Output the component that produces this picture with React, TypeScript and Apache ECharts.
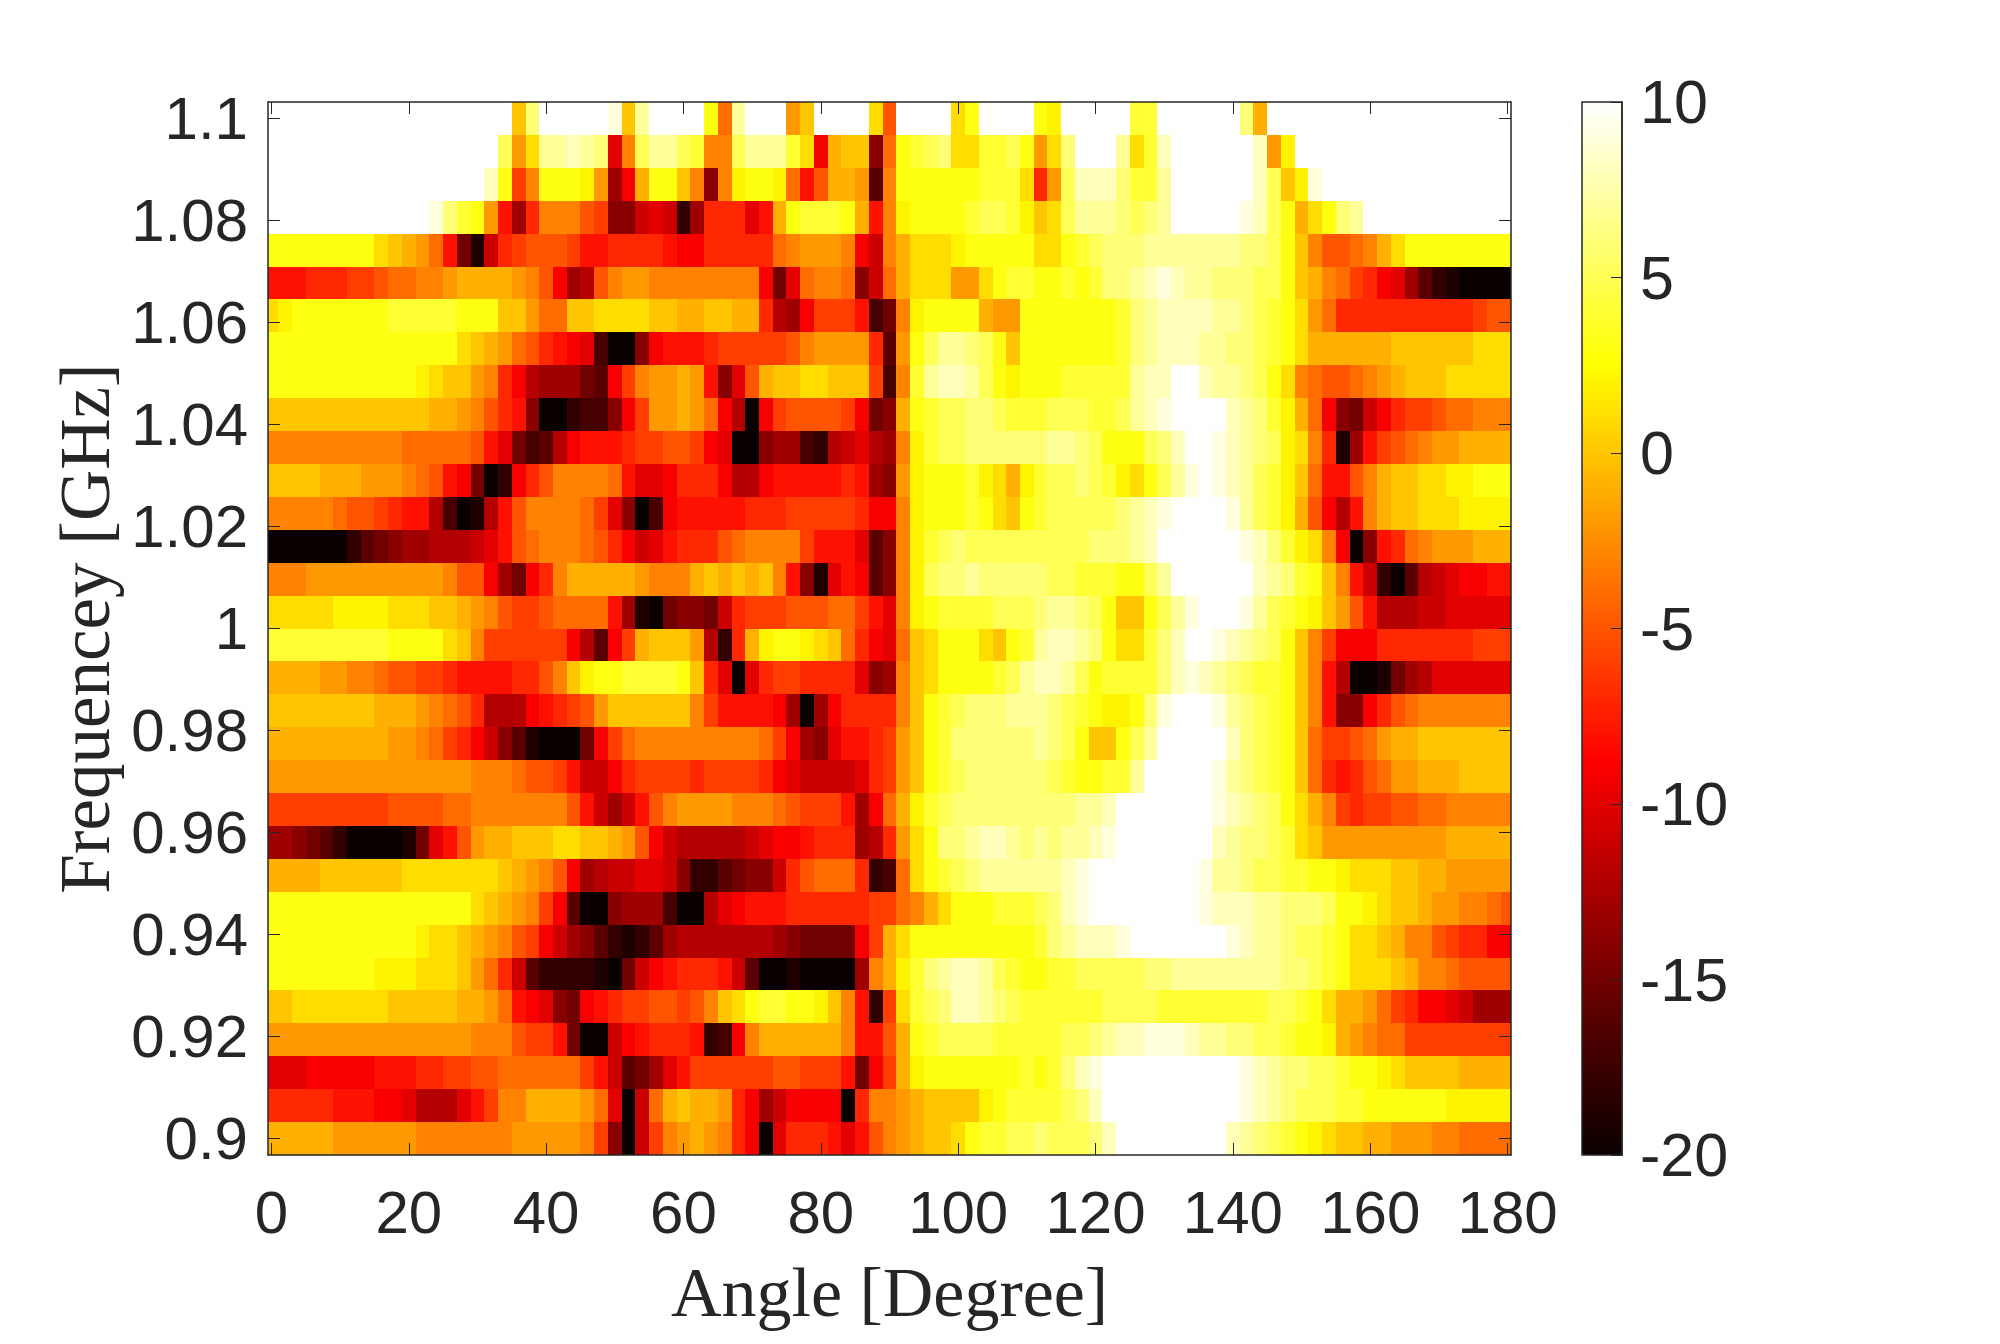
import React, { useEffect, useRef } from "react";
import * as echarts from "echarts";

const xTicks = [0, 20, 40, 60, 80, 100, 120, 140, 160, 180];
const yTicks = [0.9, 0.92, 0.94, 0.96, 0.98, 1, 1.02, 1.04, 1.06, 1.08, 1.1];
const colorTicks = [-20, -15, -10, -5, 0, 5, 10];
const hotStops = ["#0b0000", "#550000", "#aa0000", "#ff0000", "#ff5500", "#ffaa00", "#ffff00", "#ffff80", "#ffffff"];

// dB level per 2 degree step, 0..180; rows run from 1.1 GHz down to 0.9 GHz
const r01 = [10,10,10,10,10, 10,10,10,10,10, 10,10,10,10,10, 10,10,10,0,6, 10,10,10,10,10, 9,0,7,10,10, 10,10,3,-4,7, 10,10,10,-2,0, 10,10,10,10,1, -5,10,10,10,10, 1,3,10,10,10, 10,3,2,10,10, 10,10,10,4,4, 10,10,10,10,10, 10,6,-1,10,10, 10,10,10,10,10, 10,10,10,10,10, 10,10,10,10,10, 10];
const r02 = [10,10,10,10,10, 10,10,10,10,10, 10,10,10,10,10, 10,10,5,-2,1, 7,7,8,7,6, -10,-3,5,7,7, 5,4,-3,-3,5, 7,7,7,4,1, -9,-1,0,0,-14, -4,3,4,5,6, 1,1,4,4,5, 3,-2,1,6,10, 10,10,7,1,4, 8,10,10,10,10, 10,10,8,-2,2, 10,10,10,10,10, 10,10,10,10,10, 10,10,10,10,10, 10];
const r03 = [10,10,10,10,10, 10,10,10,10,10, 10,10,10,10,10, 10,8,3,-6,-3, 3,3,3,2,-2, -13,-9,-1,3,3, 0,-3,-14,-3,2, 3,3,2,-4,-8, -5,-1,-1,-2,-16, -3,3,3,3,3, 3,3,4,4,4, 1,-7,-2,5,8, 8,8,6,4,4, 7,10,10,10,10, 10,10,8,5,0, 2,9,10,10,10, 10,10,10,10,10, 10,10,10,10,10, 10];
const r04 = [10,10,10,10,10, 10,10,10,10,10, 10,10,9,6,4, 3,-2,-8,-13,-7, -3,-3,-3,-5,-6, -14,-14,-11,-10,-11, -18,-13,-7,-7,-7, -10,-8,-1,3,4, 4,4,3,-1,-8, -3,2,3,3,3, 3,4,5,5,4, 2,0,1,5,7, 7,7,6,5,6, 7,10,10,10,10, 10,9,8,5,3, -1,1,3,6,7, 10,10,10,10,10, 10,10,10,10,10, 10];
const r05 = [3,3,3,3,3, 3,3,3,1,0, -1,-2,-4,-8,-15, -19,-11,-7,-6,-5, -5,-5,-6,-8,-8, -7,-7,-7,-7,-8, -9,-9,-7,-7,-7, -7,-7,-4,-3,-2, -2,-2,-3,-9,-11, -3,-1,1,1,1, 2,3,3,3,3, 3,1,1,3,4, 5,6,6,6,7, 7,7,7,7,7, 7,6,6,5,3, 0,-3,-5,-5,-4, -3,-1,1,3,3, 3,3,3,3,3, 3];
const r06 = [-8,-8,-8,-7,-7, -7,-6,-6,-5,-4, -4,-3,-3,-2,-1, -1,-1,-1,-2,-3, -5,-9,-13,-12,-5, -3,-2,-2,-3,-3, -3,-3,-3,-3,-3, -3,-9,-15,-10,-4, -3,-3,-4,-14,-11, -4,-1,1,1,1, -2,-2,1,3,4, 4,3,3,4,3, 4,6,6,7,8, 9,8,7,7,6, 6,6,5,5,3, 0,-1,-3,-4,-6, -7,-9,-10,-13,-16, -18,-19,-20,-20,-20, -20];
const r07 = [1,2,3,3,3, 3,3,3,3,4, 4,4,4,4,3, 3,3,0,0,-2, -4,-4,0,0,1, 1,1,1,0,0, -1,-1,0,0,-1, -1,-7,-12,-13,-9, -6,-6,-6,-8,-17, -15,-3,2,3,3, 3,3,-1,-2,-2, 3,3,3,3,3, 3,3,4,6,7, 8,8,8,8,7, 7,6,5,4,3, 1,-2,-4,-7,-7, -7,-7,-7,-7,-7, -7,-7,-7,-6,-5, -5];
const r08 = [3,3,3,3,3, 3,3,3,3,3, 3,3,3,3,1, 0,-1,-2,-4,-5, -7,-8,-9,-10,-17, -20,-20,-14,-9,-8, -8,-8,-7,-6,-6, -6,-6,-6,-5,-3, -2,-2,-2,-2,-7, -16,-2,3,5,7, 7,6,5,3,0, 3,3,3,3,3, 3,3,4,6,7, 8,8,8,7,7, 6,6,5,4,3, 1,-1,-1,-1,-1, -1,-1,0,0,0, 0,0,0,1,1, 1];
const r09 = [3,3,3,3,3, 3,3,3,3,3, 3,2,1,0,0, -2,-3,-7,-9,-12, -13,-13,-13,-15,-16, -9,-6,-3,-2,-2, -1,-2,-8,-14,-10, -5,-1,0,0,1, 1,0,0,0,-6, -17,-3,4,7,8, 8,7,5,3,2, 3,3,3,4,4, 4,4,4,7,8, 8,10,10,8,7, 7,6,5,3,1, -3,-4,-5,-5,-4, -3,-2,-1,0,0, 0,1,1,1,1, 1];
const r10 = [0,0,0,0,0, 0,0,0,0,0, 0,0,-1,-1,-2, -3,-5,-7,-8,-14, -20,-20,-18,-17,-17, -14,-9,-6,-2,-2, -1,-2,-4,-9,-12, -20,-9,-6,-5,-5, -5,-5,-6,-9,-15, -14,-1,3,4,5, 5,6,6,5,4, 4,4,5,5,5, 4,4,5,7,8, 9,10,10,10,10, 8,7,6,4,2, -1,-4,-9,-14,-15, -11,-9,-7,-6,-6, -5,-4,-4,-3,-3, -3];
const r11 = [-3,-3,-3,-3,-3, -3,-3,-3,-3,-3, -4,-4,-4,-4,-4, -5,-8,-10,-15,-17, -16,-12,-9,-8,-8, -8,-7,-6,-6,-5, -5,-6,-9,-10,-20, -20,-14,-13,-13,-17, -18,-12,-11,-10,-12, -13,-3,2,4,5, 5,6,6,6,6, 6,6,7,7,6, 5,3,3,3,5, 6,8,10,10,9, 8,7,6,5,2, 1,-3,-7,-19,-13, -8,-6,-5,-4,-3, -2,-2,-1,-1,-1, -1];
const r12 = [0,0,0,0,-1, -1,-1,-2,-2,-2, -3,-4,-5,-8,-9, -15,-20,-18,-9,-7, -5,-3,-3,-3,-3, -4,-8,-10,-10,-9, -7,-7,-7,-9,-12, -12,-9,-8,-8,-8, -8,-8,-7,-8,-13, -14,-2,2,3,3, 3,4,2,1,-1, 2,4,5,5,6, 5,4,2,1,3, 5,7,9,10,9, 8,7,5,4,2, 0,-4,-8,-8,-5, -3,-1,0,0,1, 1,2,2,3,3, 3];
const r13 = [-3,-3,-3,-3,-3, -4,-5,-5,-6,-7, -8,-8,-12,-17,-20, -19,-12,-8,-5,-3, -3,-3,-3,-4,-6, -10,-14,-20,-17,-9, -8,-8,-8,-8,-8, -7,-7,-7,-6,-6, -6,-6,-6,-7,-9, -9,-3,2,3,3, 3,4,3,1,0, 3,4,5,5,5, 5,5,6,7,8, 9,10,10,10,10, 9,7,5,4,2, -1,-5,-9,-12,-8, -3,-1,0,0,1, 1,1,2,2,2, 2];
const r14 = [-20,-20,-20,-20,-20, -20,-18,-16,-15,-14, -13,-13,-12,-12,-12, -11,-10,-8,-5,-4, -3,-3,-3,-4,-5, -7,-9,-11,-10,-8, -7,-7,-7,-5,-4, -3,-3,-3,-3,-6, -8,-8,-8,-10,-16, -14,-3,2,4,5, 6,5,5,5,5, 5,5,5,5,5, 6,6,6,7,8, 10,10,10,10,10, 10,9,8,6,4, 2,1,-3,-9,-20, -14,-8,-7,-4,-3, -2,-2,-2,-1,-1, -1];
const r15 = [-3,-3,-3,-2,-2, -2,-2,-2,-2,-2, -2,-2,-2,-3,-5, -5,-9,-13,-15,-9, -7,-3,-1,-1,-1, -1,-1,-2,-3,-3, -3,-1,0,-1,0, -1,0,-3,-8,-14, -19,-10,-8,-9,-16, -14,-3,2,5,6, 6,7,6,6,6, 6,6,5,5,4, 4,4,3,3,5, 7,10,10,10,10, 10,10,8,7,6, 4,3,0,-3,-8, -11,-18,-20,-16,-12, -11,-10,-9,-9,-8, -8];
const r16 = [1,1,1,1,1, 2,2,2,2,1, 1,1,0,0,-1, -2,-3,-5,-6,-6, -5,-4,-4,-4,-4, -8,-13,-19,-20,-15, -14,-14,-15,-11,-7, -6,-6,-6,-5,-5, -5,-4,-4,-6,-8, -10,-3,2,3,4, 4,4,4,5,5, 5,6,7,7,6, 5,3,0,0,3, 5,7,9,10,10, 10,9,7,5,4, 3,2,0,-2,-5, -8,-12,-12,-12,-11, -11,-10,-10,-10,-10, -10];
const r17 = [4,4,4,4,4, 4,4,4,4,3, 3,3,3,1,0, -3,-6,-6,-6,-6, -6,-6,-9,-12,-16, -9,-6,-1,0,0, 0,-2,-12,-18,-7, -1,2,3,3,2, 1,0,-4,-7,-9, -10,-4,0,1,3, 3,3,1,0,3, 4,7,8,8,7, 6,3,1,1,4, 6,8,10,10,9, 8,7,6,5,3, 0,-3,-6,-9,-9, -9,-7,-7,-7,-7, -7,-7,-7,-6,-6, -6];
const r18 = [-1,-1,-1,-1,-2, -2,-3,-3,-4,-5, -5,-6,-6,-7,-8, -8,-8,-8,-7,-7, -5,-3,0,2,3, 3,4,4,4,4, 3,0,-7,-10,-20, -10,-7,-6,-6,-7, -7,-7,-7,-10,-14, -13,-3,0,1,3, 3,3,3,4,5, 7,8,8,7,5, 3,4,4,4,4, 6,8,9,8,7, 6,5,4,4,3, 0,-3,-8,-12,-20, -20,-19,-15,-13,-12, -10,-10,-10,-10,-10, -10];
const r19 = [0,0,0,0,0, 0,0,0,-1,-1, -1,-2,-3,-4,-5, -7,-12,-12,-12,-9, -8,-7,-6,-5,-2, 0,0,0,0,0, 0,-3,-6,-8,-8, -8,-8,-9,-13,-20, -13,-9,-7,-7,-7, -7,-3,0,3,4, 5,6,6,6,7, 7,7,6,5,4, 3,2,2,3,6, 9,10,10,10,9, 7,6,5,4,3, 0,-3,-8,-14,-14, -9,-7,-5,-4,-3, -3,-3,-3,-3,-3, -3];
const r20 = [-1,-1,-1,-1,-1, -1,-1,-1,-1,-2, -2,-3,-4,-6,-7, -9,-11,-14,-16,-19, -20,-20,-20,-15,-9, -6,-4,-3,-3,-3, -3,-3,-3,-3,-3, -3,-4,-6,-9,-13, -14,-10,-8,-8,-7, -6,-2,0,3,4, 6,6,6,6,6, 6,7,6,5,3, 0,0,3,5,7, 10,10,10,10,10, 8,6,5,4,3, 0,-4,-6,-6,-5, -4,-2,-1,-1,0, 0,0,0,0,0, 0];
const r21 = [-2,-2,-2,-2,-2, -2,-2,-2,-2,-2, -2,-2,-2,-2,-2, -3,-3,-3,-4,-5, -5,-6,-8,-11,-11, -9,-7,-6,-6,-6, -6,-7,-6,-6,-6, -6,-7,-9,-10,-11, -11,-11,-11,-10,-7, -6,-2,0,3,4, 5,6,6,6,6, 6,6,5,4,3, 3,4,4,7,10, 10,10,10,10,9, 7,6,5,4,3, 0,-4,-7,-8,-7, -5,-4,-2,-2,-1, -1,-1,0,0,0, 0];
const r22 = [-6,-6,-6,-6,-6, -6,-6,-6,-6,-5, -5,-5,-5,-4,-4, -3,-3,-3,-3,-3, -3,-3,-5,-8,-11, -13,-11,-8,-5,-3, -2,-2,-2,-2,-3, -3,-3,-4,-5,-6, -6,-6,-8,-13,-9, -4,-1,2,4,5, 6,6,6,6,6, 6,6,6,6,7, 7,8,10,10,10, 10,10,10,10,9, 8,7,6,5,3, 1,-1,-3,-6,-7, -6,-6,-5,-5,-4, -4,-3,-3,-3,-3, -3];
const r23 = [-13,-13,-14,-15,-16, -18,-20,-20,-20,-20, -19,-15,-10,-8,-5, -2,-1,-1,0,0, 0,1,1,0,0, -1,-2,-5,-9,-11, -12,-12,-12,-12,-12, -11,-10,-9,-9,-8, -7,-7,-7,-13,-12, -7,-2,1,3,6, 6,7,8,8,7, 6,7,6,7,7, 8,9,10,10,10, 10,10,10,10,8, 7,6,6,5,4, 1,0,-2,-2,-2, -2,-2,-2,-2,-2, -2,-1,-1,-1,-1, -1];
const r24 = [-1,-1,-1,-1,0, 0,0,0,0,0, 1,1,1,1,1, 1,1,0,-1,-2, -3,-5,-9,-13,-12, -11,-11,-10,-10,-11, -14,-18,-18,-16,-15, -14,-14,-11,-7,-5, -4,-4,-4,-7,-18, -17,-4,1,3,4, 5,6,7,7,7, 7,7,7,8,9, 10,10,10,10,10, 10,10,10,9,7, 7,6,5,5,4, 4,3,3,2,1, 1,1,0,0,-1, -1,-2,-2,-2,-2, -2];
const r25 = [3,3,3,3,3, 3,3,3,3,3, 3,3,3,3,3, 1,0,-1,-2,-3, -6,-9,-16,-20,-20, -14,-13,-13,-13,-17, -20,-20,-12,-10,-9, -8,-8,-8,-7,-7, -7,-7,-7,-7,-6, -6,-4,-3,-1,1, 3,3,3,4,4, 4,5,6,8,9, 10,10,10,10,10, 10,10,10,9,8, 8,8,7,7,6, 6,6,5,3,3, 2,1,0,0,-1, -2,-2,-3,-3,-4, -5];
const r26 = [3,3,3,3,3, 3,3,3,3,3, 3,2,1,1,0, -1,-2,-3,-5,-6, -9,-11,-13,-14,-16, -18,-19,-18,-16,-13, -12,-12,-12,-12,-12, -12,-12,-13,-14,-15, -15,-15,-15,-9,-6, -1,1,3,3,3, 3,3,3,3,3, 3,4,6,7,8, 8,8,9,10,10, 10,10,10,10,10, 9,8,7,7,6, 5,5,4,3,1, 1,0,-1,-3,-3, -5,-6,-7,-7,-9, -9];
const r27 = [3,3,3,3,3, 3,3,3,2,2, 2,1,1,1,0, -2,-4,-7,-11,-16, -18,-18,-18,-18,-19, -20,-15,-11,-9,-8, -7,-7,-7,-8,-11, -16,-20,-20,-19,-20, -20,-20,-20,-13,-3, -1,2,4,6,7, 8,8,7,5,4, 3,3,4,4,5, 5,5,5,5,6, 6,7,7,7,7, 7,7,7,7,6, 6,5,4,3,1, 1,1,0,-1,-3, -3,-4,-5,-5,-5, -5];
const r28 = [0,0,1,1,1, 1,1,1,1,0, 0,0,0,0,-1, -1,-2,-4,-8,-9, -10,-14,-15,-9,-8, -7,-6,-6,-5,-5, -6,-5,-3,0,1, 3,4,4,3,3, 2,0,-3,-8,-18, -6,1,4,5,6, 8,8,7,6,5, 4,4,4,4,4, 4,5,5,5,5, 4,4,4,4,4, 4,4,4,5,5, 4,3,1,-1,-1, -2,-4,-6,-7,-9, -9,-10,-11,-13,-13, -13];
const r29 = [-2,-2,-2,-2,-2, -2,-2,-2,-2,-2, -2,-2,-2,-2,-2, -3,-3,-3,-5,-6, -6,-8,-15,-20,-20, -11,-9,-8,-7,-7, -7,-8,-18,-17,-9, -3,-1,-1,-1,-1, -1,-1,-3,-8,-8, -5,-1,3,4,5, 5,5,5,4,4, 4,4,4,5,5, 6,7,8,8,9, 9,9,8,7,7, 6,6,5,5,4, 3,3,2,-1,-2, -3,-4,-4,-6,-6, -6,-6,-6,-6,-6, -6];
const r30 = [-10,-10,-10,-9,-9, -9,-9,-9,-8,-8, -8,-7,-7,-6,-6, -5,-5,-4,-4,-4, -4,-4,-4,-6,-8, -11,-16,-15,-13,-10, -8,-6,-6,-6,-6, -6,-6,-5,-5,-6, -6,-6,-8,-15,-9, -6,-1,2,3,3, 3,3,3,3,3, 4,3,4,6,8, 9,10,10,10,10, 10,10,10,10,10, 10,9,8,7,6, 6,5,5,4,3, 3,2,1,0,0, 0,0,-1,-1,-1, -1];
const r31 = [-7,-7,-7,-7,-7, -8,-8,-8,-9,-9, -10,-12,-12,-12,-10, -8,-6,-3,-3,-1, -1,-1,-1,-2,-4, -10,-20,-11,-4,-1, 0,-1,-1,-2,-7, -9,-13,-11,-9,-9, -9,-9,-20,-7,-3, -3,-2,-1,0,0, 0,0,2,3,4, 4,4,4,5,6, 8,10,10,10,10, 10,10,10,10,10, 10,9,8,7,6, 5,5,5,4,4, 3,3,3,3,3, 3,2,2,2,2, 2];
const r32 = [-1,-1,-1,-1,-1, -2,-2,-2,-2,-2, -2,-3,-3,-3,-3, -3,-3,-3,-2,-2, -2,-2,-2,-3,-6, -14,-20,-11,-6,-3, -2,-1,-2,-3,-7, -9,-20,-10,-7,-7, -7,-8,-10,-8,-5, -3,-2,-1,0,0, 1,3,4,4,5, 5,6,5,5,5, 6,8,10,10,10, 10,10,10,10,10, 8,7,6,5,4, 3,2,1,0,0, -1,-1,-2,-2,-2, -3,-3,-4,-4,-4, -4];

const rows = [r01,r02,r03,r04,r05,r06,r07,r08,r09,r10,r11,r12,r13,r14,r15,r16,r17,r18,r19,r20,r21,r22,r23,r24,r25,r26,r27,r28,r29,r30,r31,r32];

const INK = "#262626";
const SANS = "'Liberation Sans', Arial, sans-serif";
const SERIF = "'Liberation Serif', 'Times New Roman', serif";
const ANGLE_STEP = 2;
const FREQ_STEP = 0.2 / 31;
const X_MIN = -0.5;
const X_MAX = 180.5;
const Y_MIN = 0.9 - FREQ_STEP / 2;
const Y_MAX = 1.1 + FREQ_STEP / 2;

const cells: number[][] = [];
rows.forEach((row, i) => {
  row.forEach((v, j) => {
    cells.push([j * ANGLE_STEP, 1.1 - i * FREQ_STEP, v]);
  });
});

const snap = (v: number) => Math.round(Number(v.toFixed(2)));

function renderCell(_p: any, api: any) {
  const a = api.value(0);
  const f = api.value(1);
  const x0 = Math.max(X_MIN, a - ANGLE_STEP / 2);
  const x1 = Math.min(X_MAX, a + ANGLE_STEP / 2);
  const p0 = api.coord([x0, f + FREQ_STEP / 2]);
  const p1 = api.coord([x1, f - FREQ_STEP / 2]);
  const left = snap(p0[0]);
  const top = snap(p0[1]);
  return {
    type: "rect",
    shape: { x: left, y: top, width: snap(p1[0]) - left, height: snap(p1[1]) - top },
    style: { fill: api.visual("color") },
  };
}

const boxAxis = { show: true, onZero: false, lineStyle: { color: INK, width: 1.5 } };
const mainTick = { show: true, inside: true, length: 12, lineStyle: { color: INK, width: 1 } };

export default function App() {
  const ref = useRef<HTMLDivElement>(null);
  useEffect(() => {
    const chart = echarts.init(ref.current!, undefined, { renderer: "svg" });
    chart.setOption({
      animation: false,
      backgroundColor: "#ffffff",
      grid: [
        { left: 268, top: 102, width: 1243, height: 1053 },
        { left: 1582, top: 102, width: 40, height: 1053, show: true, borderColor: INK, borderWidth: 1.5, backgroundColor: "transparent", z: 6 },
      ],
      xAxis: [
        {
          type: "value", gridIndex: 0, min: X_MIN, max: X_MAX, position: "bottom", z: 10,
          name: "Angle [Degree]", nameLocation: "middle", nameGap: 102,
          nameTextStyle: { fontFamily: SERIF, fontSize: 70, color: INK },
          axisLine: boxAxis,
          axisTick: { ...mainTick, customValues: xTicks },
          axisLabel: { customValues: xTicks, fontFamily: SANS, fontSize: 60, color: INK, margin: 27 },
          splitLine: { show: false },
        },
        {
          type: "value", gridIndex: 0, min: X_MIN, max: X_MAX, position: "top", z: 10,
          axisLine: boxAxis,
          axisTick: { ...mainTick, customValues: xTicks },
          axisLabel: { show: false },
          splitLine: { show: false },
        },
        { type: "value", gridIndex: 1, min: 0, max: 1, show: false },
      ],
      yAxis: [
        {
          type: "value", gridIndex: 0, min: Y_MIN, max: Y_MAX, position: "left", z: 10,
          name: "Frequencey [GHz]", nameLocation: "middle", nameGap: 132,
          nameTextStyle: { fontFamily: SERIF, fontSize: 71, color: INK },
          axisLine: boxAxis,
          axisTick: { ...mainTick, customValues: yTicks },
          axisLabel: { customValues: yTicks, fontFamily: SANS, fontSize: 60, color: INK, margin: 20, padding: [15, 0, 0, 0] },
          splitLine: { show: false },
        },
        {
          type: "value", gridIndex: 0, min: Y_MIN, max: Y_MAX, position: "right", z: 10,
          axisLine: boxAxis,
          axisTick: { ...mainTick, customValues: yTicks },
          axisLabel: { show: false },
          splitLine: { show: false },
        },
        {
          type: "value", gridIndex: 1, min: -20, max: 10, interval: 5, position: "right", z: 10,
          axisLine: boxAxis,
          axisTick: { show: true, inside: true, length: 11, lineStyle: { color: INK, width: 1 }, customValues: colorTicks },
          axisLabel: { customValues: colorTicks, fontFamily: SANS, fontSize: 61, color: INK, margin: 18, padding: [11, 0, 0, 0] },
          splitLine: { show: false },
        },
      ],
      visualMap: {
        type: "continuous", seriesIndex: 0, dimension: 2, min: -20, max: 10,
        calculable: false, hoverLink: false, left: 1582, top: 102, padding: 0,
        itemWidth: 40, itemHeight: 1053, text: undefined, showLabel: false,
        inRange: { color: hotStops },
        textStyle: { fontSize: 0 },
      },
      series: [
        {
          type: "custom", xAxisIndex: 0, yAxisIndex: 0, coordinateSystem: "cartesian2d",
          data: cells, encode: { x: 0, y: 1 }, renderItem: renderCell, clip: true, silent: true, z: 2,
        },
      ],
    });
    return () => chart.dispose();
  }, []);
  return <div ref={ref} style={{ position: "absolute", left: 0, top: 0, width: 2000, height: 1344 }} />;
}
